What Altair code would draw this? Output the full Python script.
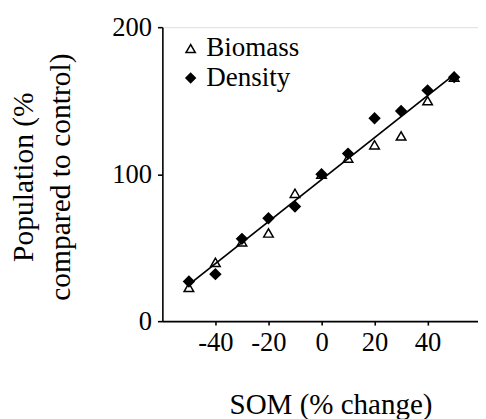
import altair as alt
import pandas as pd

# Data
som_change = [-50, -40, -30, -20, -10, 0, 10, 20, 30, 40, 50]
biomass = [23, 40, 54, 60, 87, 100, 111, 120, 126, 150, 166]
density = [27, 32, 56, 70, 78, 100, 114, 138, 143, 157, 166]
series_names = ["Biomass", "Density"]
x_ticks = [-40, -20, 0, 20, 40]
y_ticks = [0, 100, 200]

df = pd.DataFrame({
    "x": som_change * 2,
    "value": biomass + density,
    "series": ["Biomass"] * len(som_change) + ["Density"] * len(som_change),
})

FONT = "Liberation Serif"

x_enc = alt.X(
    "x:Q",
    scale=alt.Scale(domain=[-60, 59], nice=False, zero=False),
    axis=alt.Axis(
        values=x_ticks,
        labelExpr="'' + datum.value",
        title="SOM (% change)",
        titleFont=FONT, titleFontSize=29.5, titleFontWeight="normal",
        titleX=171, titleY=94, titleBaseline="alphabetic",
        labelFont=FONT, labelFontSize=27, labelBaseline="alphabetic",
        labelPadding=26, tickSize=4, labelFlush=False,
        grid=False, domainColor="black", tickColor="black",
        domainWidth=1.6, tickWidth=1.6, labelColor="black", titleColor="black",
    ),
)
y_enc = alt.Y(
    "value:Q",
    scale=alt.Scale(domain=[0, 200], nice=False),
    axis=alt.Axis(
        values=y_ticks,
        title=["Population (%", "compared to control)"],
        titleFont=FONT, titleFontSize=30, titleFontWeight="normal",
        titleX=-132, titleY=152, titleBaseline="alphabetic", titleAlign="center",
        titleLineHeight=38, titleAngle=270,
        labelFont=FONT, labelFontSize=27, labelBaseline="middle",
        labelPadding=6, tickSize=5,
        grid=False, domainColor="black", tickColor="black",
        domainWidth=1.6, tickWidth=1.6, labelColor="black", titleColor="black",
    ),
)

legend = alt.Legend(
    title=None, orient="none", legendX=15, legendY=8,
    labelFont=FONT, labelFontSize=27.5, labelColor="black",
    symbolStrokeWidth=1.5, symbolSize=90,
    labelOffset=2, rowPadding=1, padding=0,
)

shape_enc = alt.Shape(
    "series:N",
    scale=alt.Scale(domain=series_names, range=["triangle-up", "diamond"]),
    legend=legend,
)
fill_enc = alt.Fill(
    "series:N",
    scale=alt.Scale(domain=series_names, range=["white", "black"]),
    legend=legend,
)
stroke_enc = alt.Stroke(
    "series:N",
    scale=alt.Scale(domain=series_names, range=["black", "black"]),
    legend=legend,
)

base = alt.Chart(df)

bio_pts = base.transform_filter(alt.datum.series == "Biomass").mark_point(
    filled=False, strokeWidth=1.5, opacity=1, size=95
).encode(x=x_enc, y=y_enc, shape=shape_enc, fill=fill_enc, stroke=stroke_enc)

line = base.transform_regression("x", "value", extent=[-50, 50]).mark_line(
    color="black", strokeWidth=1.8
).encode(x="x:Q", y="value:Q")

den_pts = base.transform_filter(alt.datum.series == "Density").mark_point(
    filled=False, strokeWidth=1.5, opacity=1, size=110
).encode(x=x_enc, y=y_enc, shape=shape_enc, fill=fill_enc, stroke=stroke_enc)

chart = alt.layer(bio_pts, line, den_pts).properties(
    width=321, height=299,
    autosize=alt.AutoSizeParams(type="none"),
    padding={"left": 157, "top": 16, "right": 0, "bottom": 96},
).configure_view(stroke=None).configure(background="white")

chart.save("out.html", embed_options={"renderer": "svg", "actions": False})
